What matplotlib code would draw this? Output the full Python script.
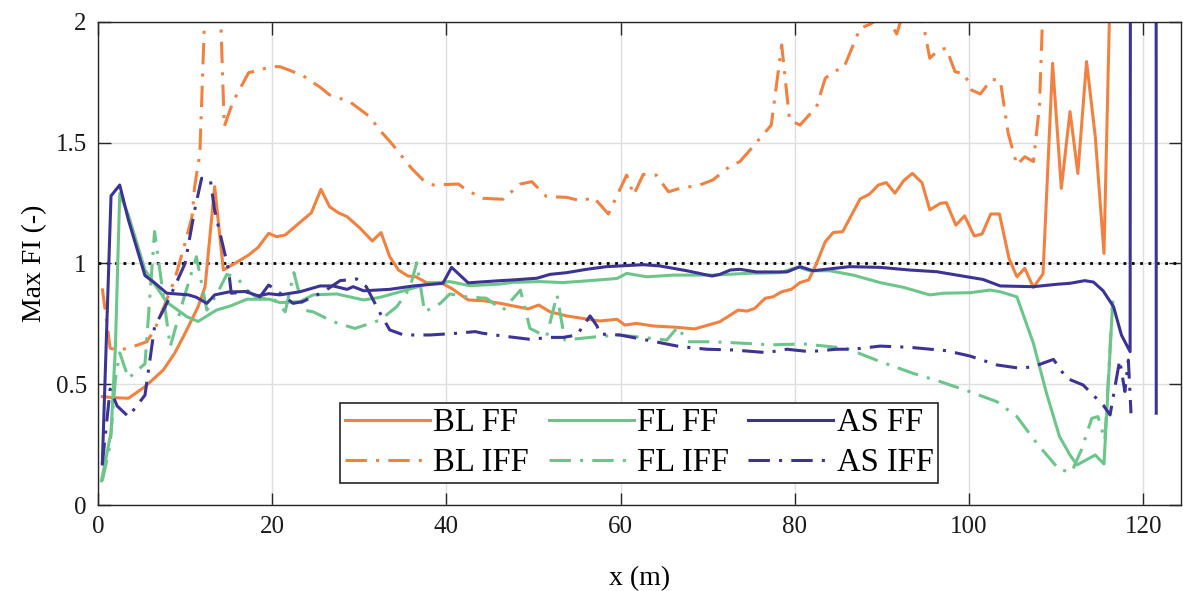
import matplotlib
matplotlib.use("Agg")
import matplotlib.pyplot as plt

plt.rcParams['font.family'] = ['Liberation Serif', 'DejaVu Serif']
plt.rcParams['font.size'] = 18

# Max FI along the track, six configurations
bl_ff_x = [0.5, 1.5, 3.5, 5.4, 7.5, 8.8, 10.0, 11.5, 12.3, 13.4, 14.4, 15.7, 17.3, 18.4, 19.6, 20.5,
           21.5, 22.6, 24.5, 25.6, 26.6, 27.6, 28.6, 30.1, 31.5, 32.5, 33.5, 34.5, 35.6, 36.5, 37.7,
           39.5, 40.6, 42.5, 44.2, 46.2, 49.4, 50.6, 51.9, 53.8, 56.1, 57.6, 59.6, 60.5, 61.8, 63.8,
           66.4, 68.5, 71.4, 73.5, 74.5, 75.4, 76.6, 77.5, 78.5, 79.6, 80.6, 81.6, 82.5, 83.5, 84.4,
           85.5, 87.5, 88.6, 89.6, 90.5, 91.5, 92.5, 93.5, 94.6, 95.5, 96.7, 97.4, 98.5, 99.5, 100.6,
           101.5, 102.5, 103.5, 104.6, 105.5, 106.4, 107.4, 108.5, 109.6, 110.6, 111.6, 112.5, 113.5,
           114.5, 115.5, 116.5]
bl_ff_y = [0.449, 0.445, 0.442, 0.49, 0.559, 0.628, 0.711, 0.821, 0.904, 1.318, 0.973, 1.0, 1.035, 1.067,
           1.125, 1.111, 1.118, 1.152, 1.21, 1.307, 1.235, 1.21, 1.194, 1.146, 1.093, 1.128, 1.028, 0.973,
           0.948, 0.945, 0.921, 0.918, 0.897, 0.849, 0.846, 0.835, 0.812, 0.828, 0.8, 0.783, 0.77, 0.762,
           0.769, 0.745, 0.752, 0.741, 0.736, 0.729, 0.759, 0.807, 0.803, 0.814, 0.856, 0.862, 0.883,
           0.893, 0.921, 0.932, 1.0, 1.09, 1.128, 1.132, 1.267, 1.288, 1.325, 1.335, 1.291, 1.343, 1.373,
           1.335, 1.222, 1.249, 1.252, 1.159, 1.197, 1.114, 1.122, 1.205, 1.205, 1.021, 0.945, 0.98,
           0.901, 0.957, 1.829, 1.311, 1.629, 1.373, 1.836, 1.525, 1.042, 2.6]

bl_iff_x = [0.5, 1.4, 2.3, 3.5, 5.6, 6.5, 8.8, 10.0, 10.8, 11.1, 11.7, 13.2, 14.5, 15.5, 17.3, 18.2,
            19.9, 20.9, 22.0, 23.6, 25.5, 26.6, 28.9, 31.2, 32.4, 33.7, 36.0, 37.4, 38.5, 41.4, 42.3,
            44.2, 46.5, 48.5, 49.8, 51.5, 53.8, 55.5, 56.9, 58.6, 60.7, 61.5, 62.6, 64.1, 65.5, 66.8,
            69.1, 70.6, 72.6, 73.7, 75.2, 77.3, 78.5, 79.4, 80.6, 82.5, 83.5, 84.6, 85.6, 87.5, 88.6,
            90.5, 91.7, 92.3, 93.5, 94.6, 95.5, 96.5, 97.4, 98.4, 99.5, 100.3, 101.3, 102.6, 103.6,
            104.5, 105.5, 106.4, 107.4, 108.1, 109.0]
bl_iff_y = [0.897, 0.649, 0.642, 0.649, 0.676, 0.725, 0.932, 1.084, 1.194, 1.318, 1.456, 3.0, 1.567,
            1.67, 1.79, 1.798, 1.815, 1.815, 1.80, 1.776, 1.73, 1.698, 1.67, 1.608, 1.55, 1.498, 1.394,
            1.343, 1.325, 1.329, 1.304, 1.27, 1.266, 1.329, 1.339, 1.277, 1.274, 1.259, 1.274, 1.205,
            1.366, 1.284, 1.369, 1.366, 1.297, 1.311, 1.325, 1.346, 1.404, 1.422, 1.484, 1.573, 1.905,
            1.594, 1.573, 1.649, 1.767, 1.798, 1.808, 1.974, 1.99, 2.03, 1.95, 2.02, 2.08, 2.02, 1.85,
            1.884, 1.891, 1.794, 1.785, 1.718, 1.702, 1.763, 1.757, 1.539, 1.408, 1.442, 1.422, 1.656, 2.6]

fl_ff_x = [0.4, 1.5, 2.0, 2.5, 3.5, 5.4, 7.9, 10.2, 11.5, 12.7, 13.6, 15.2, 17.1, 19.7, 20.9, 23.2,
           24.7, 27.4, 30.5, 32.4, 35.4, 38.1, 40.4, 42.7, 46.2, 47.7, 50.7, 53.4, 56.5, 59.6, 60.7,
           63.0, 66.1, 70.6, 74.5, 78.3, 80.4, 81.7, 84.0, 86.7, 89.8, 92.5, 95.5, 97.1, 100.1, 102.4,
           103.6, 105.5, 107.4, 108.9, 110.4, 111.6, 112.4, 114.5, 115.5, 116.5]
fl_ff_y = [0.1, 0.3, 0.65, 1.29, 1.2, 0.973, 0.84, 0.78, 0.76, 0.787, 0.807, 0.824, 0.852, 0.852, 0.838,
           0.842, 0.87, 0.874, 0.849, 0.86, 0.89, 0.918, 0.925, 0.908, 0.915, 0.922, 0.925, 0.921, 0.929,
           0.938, 0.959, 0.945, 0.952, 0.952, 0.959, 0.962, 0.985, 0.97, 0.97, 0.952, 0.921, 0.901, 0.87,
           0.877, 0.879, 0.89, 0.883, 0.862, 0.669, 0.463, 0.283, 0.207, 0.166, 0.207, 0.17, 0.84]

fl_iff_x = [0.5, 1.4, 2.0, 2.5, 3.5, 5.4, 6.5, 8.3, 9.8, 11.3, 12.5, 13.6, 14.8, 16.0, 17.1, 18.2,
            20.3, 21.5, 22.5, 23.6, 24.7, 27.0, 29.5, 32.4, 34.3, 35.8, 36.6, 37.5, 39.3, 40.4, 42.3,
            44.6, 46.5, 48.5, 49.6, 51.5, 52.7, 53.6, 57.3, 59.9, 65.3, 66.6, 67.6, 70.6, 74.5, 77.2,
            81.0, 85.9, 89.8, 93.6, 96.7, 100.1, 103.2, 105.5, 107.8, 110.4, 111.8, 112.9, 114.1, 114.8,
            115.6, 116.5]
fl_iff_y = [0.1, 0.25, 0.52, 0.63, 0.525, 0.585, 1.132, 0.656, 0.849, 1.028, 0.807, 0.87, 0.955, 0.94,
            0.89, 0.86, 0.849, 0.80, 0.962, 0.807, 0.8, 0.759, 0.731, 0.766, 0.821, 0.897, 1.003, 0.8,
            0.835, 0.874, 0.862, 0.856, 0.807, 0.89, 0.731, 0.697, 0.87, 0.683, 0.697, 0.704, 0.683,
            0.738, 0.676, 0.676, 0.669, 0.663, 0.667, 0.649, 0.594, 0.545, 0.511, 0.469, 0.428, 0.366,
            0.255, 0.145, 0.138, 0.228, 0.359, 0.366, 0.269, 0.842]

as_ff_x = [0.5, 1.5, 2.5, 3.5, 5.4, 6.5, 7.9, 9.0, 10.4, 11.3, 12.5, 13.4, 15.0, 16.9, 18.4, 19.6,
           20.9, 23.2, 25.5, 27.0, 28.6, 29.3, 30.5, 33.5, 36.2, 39.6, 40.6, 42.5, 46.2, 47.7, 50.4,
           51.9, 53.8, 56.1, 58.4, 62.6, 64.5, 67.6, 70.5, 71.4, 72.6, 73.7, 75.6, 79.1, 80.6, 82.1,
           86.3, 89.8, 93.2, 96.3, 100.1, 101.6, 103.6, 107.4, 110.1, 111.6, 113.3, 114.3, 115.4, 116.6,
           117.5, 118.5, 118.65, 121.45, 121.5]
as_ff_y = [0.17, 1.28, 1.325, 1.18, 0.95, 0.92, 0.877, 0.874, 0.87, 0.86, 0.835, 0.87, 0.882, 0.884,
           0.866, 0.875, 0.87, 0.883, 0.907, 0.907, 0.893, 0.904, 0.887, 0.893, 0.907, 0.918, 0.984, 0.92,
           0.929, 0.932, 0.939, 0.955, 0.962, 0.976, 0.987, 0.995, 0.99, 0.97, 0.948, 0.955, 0.973, 0.976,
           0.965, 0.965, 0.987, 0.97, 0.987, 0.984, 0.973, 0.966, 0.943, 0.934, 0.907, 0.904, 0.914,
           0.918, 0.929, 0.923, 0.887, 0.821, 0.704, 0.635, 8.0, 8.0, 0.38]

as_iff_x = [0.5, 1.4, 2.2, 3.5, 5.4, 6.5, 7.7, 8.8, 10.0, 11.1, 11.9, 12.9, 13.4, 15.0, 15.3, 17.3,
            18.6, 19.6, 20.9, 22.4, 23.5, 25.9, 27.8, 29.7, 30.8, 32.4, 33.5, 35.1, 38.1, 41.2, 43.3,
            44.2, 46.2, 49.6, 51.9, 53.4, 55.0, 56.5, 57.3, 57.6, 59.9, 63.0, 66.8, 69.9, 72.9, 76.8,
            79.1, 81.7, 84.8, 86.7, 89.8, 93.2, 97.4, 100.1, 103.2, 105.9, 107.4, 109.7, 111.2, 113.1,
            115.4, 116.2, 117.3, 117.9, 118.3, 118.6]
as_iff_y = [0.17, 0.48, 0.41, 0.366, 0.455, 0.738, 0.82, 0.904, 1.0, 1.22, 1.353, 1.346, 1.22, 0.973,
            0.877, 0.883, 0.862, 0.911, 0.877, 0.835, 0.842, 0.883, 0.929, 0.936, 0.904, 0.794, 0.725,
            0.704, 0.704, 0.711, 0.718, 0.711, 0.701, 0.686, 0.694, 0.694, 0.704, 0.783, 0.741, 0.708,
            0.704, 0.683, 0.656, 0.645, 0.642, 0.631, 0.645, 0.635, 0.645, 0.645, 0.658, 0.653, 0.639,
            0.617, 0.58, 0.566, 0.573, 0.603, 0.525, 0.497, 0.414, 0.373, 0.60, 0.47, 0.60, 0.38]

c_bl = '#F28140'
c_fl = '#6CC68A'
c_as = '#3C3494'
dashdot = (0, (7, 3, 1, 3))
lw = 2.2

fig = plt.figure(figsize=(11.83, 5.91), dpi=100)
ax = fig.add_axes([0.0828, 0.1455, 0.9152, 0.8173])

ax.plot(bl_ff_x, bl_ff_y, color=c_bl, lw=lw, label='BL FF')
ax.plot(bl_iff_x, bl_iff_y, color=c_bl, lw=lw, ls=dashdot, label='BL IFF')
ax.plot(fl_ff_x, fl_ff_y, color=c_fl, lw=lw, label='FL FF')
ax.plot(fl_iff_x, fl_iff_y, color=c_fl, lw=lw, ls=dashdot, label='FL IFF')
ax.plot(as_ff_x, as_ff_y, color=c_as, lw=lw, label='AS FF')
ax.plot(as_iff_x, as_iff_y, color=c_as, lw=lw, ls=dashdot, label='AS IFF')

ax.axhline(1, color='k', lw=2, ls=(0, (1, 2)), zorder=1)

ax.set_xlim(0, 124.3)
ax.set_ylim(0, 2)
ax.set_xticks([0, 20, 40, 60, 80, 100, 120])
ax.set_yticks([0, 0.5, 1, 1.5, 2])
ax.set_yticklabels(['0', '0.5', '1', '1.5', '2'])
ax.grid(True, color='#dedede', lw=1)
ax.set_axisbelow(True)
ax.tick_params(direction='in', length=9, width=1, top=True, right=True,
               colors='#262626', labelcolor='#1a1a1a', pad=8)
for s in ax.spines.values():
    s.set_color('#262626')
    s.set_linewidth(1)

ax.set_xlabel('x (m)', fontsize=20, labelpad=20)
ax.set_ylabel('Max FI (-)', fontsize=20, labelpad=6)

leg = ax.legend(ncol=3, loc='lower center', bbox_to_anchor=(0.5, 0.045), borderaxespad=0,
                fontsize=23.5, fancybox=False, framealpha=1, edgecolor='#262626',
                handlelength=2.6, handletextpad=0.1, columnspacing=0.6,
                labelspacing=0.3, borderpad=0.15)
leg.get_frame().set_linewidth(1.2)

fig.savefig('out.png', dpi=100)
